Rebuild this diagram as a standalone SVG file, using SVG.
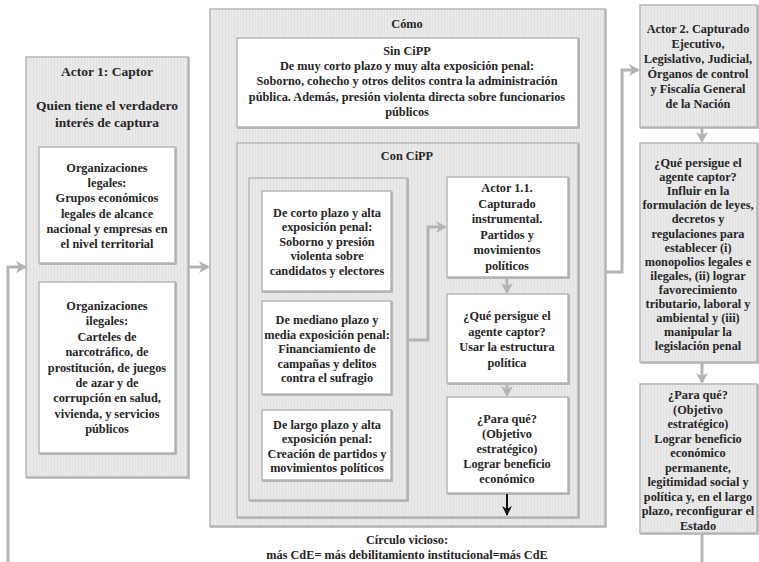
<svg xmlns="http://www.w3.org/2000/svg" width="759" height="562" viewBox="0 0 759 562">
<style>
.t{font-family:"Liberation Serif","DejaVu Serif",serif;font-weight:bold;font-size:12.3px;fill:#262626;text-anchor:middle}
.big{font-size:13.5px}
.g{fill:url(#stripe);stroke:#b6b6b6;stroke-width:1.5;filter:url(#sh)}
.w{fill:#ffffff;stroke:#b6b6b6;stroke-width:1.5;filter:url(#sh)}
.c{fill:none;stroke:#b4b4b4;stroke-width:3;marker-end:url(#ah)}
.k{fill:none;stroke:#111;stroke-width:2;marker-end:url(#ak)}
</style>
<defs>
<pattern id="stripe" width="3" height="3" patternUnits="userSpaceOnUse">
<rect width="3" height="3" fill="#e9e9e9"/>
<rect width="1" height="3" fill="#e1e1e1"/>
</pattern>
<filter id="sh" x="-5%" y="-5%" width="110%" height="110%">
<feDropShadow dx="1" dy="1" stdDeviation="0.7" flood-color="#8a8a8a" flood-opacity="0.7"/>
</filter>
<marker id="ah" markerUnits="userSpaceOnUse" markerWidth="12" markerHeight="12" refX="9" refY="6" orient="auto">
<path d="M0,0 L11,6 L0,12 L3,6 z" fill="#b4b4b4"/>
</marker>
<marker id="ak" markerUnits="userSpaceOnUse" markerWidth="12" markerHeight="12" refX="9" refY="6" orient="auto">
<path d="M0,1 L10,6 L0,11 L3,6 z" fill="#111"/>
</marker>
</defs>
<rect width="759" height="562" fill="#ffffff"/>

<g id="actor1">
<rect class="g" x="26" y="57" width="162" height="420"/>
<text class="t big" x="107" y="76">Actor 1: Captor</text>
<text class="t big" x="107" y="110">Quien tiene el verdadero<tspan x="107" dy="17">interés de captura</tspan></text>
</g>
<g id="org-legales">
<rect class="w" x="39" y="147" width="136" height="116"/>
<text class="t" x="107" y="172">Organizaciones<tspan x="107" dy="15.2">legales:</tspan><tspan x="107" dy="15.2">Grupos económicos</tspan><tspan x="107" dy="15.2">legales de alcance</tspan><tspan x="107" dy="15.2">nacional y empresas en</tspan><tspan x="107" dy="15.2">el nivel territorial</tspan></text>
</g>
<g id="org-ilegales">
<rect class="w" x="39" y="282" width="136" height="171"/>
<text class="t" x="107" y="310">Organizaciones<tspan x="107" dy="15.4">ilegales:</tspan><tspan x="107" dy="15.4">Carteles de</tspan><tspan x="107" dy="15.4">narcotráfico, de</tspan><tspan x="107" dy="15.4">prostitución, de juegos</tspan><tspan x="107" dy="15.4">de azar y de</tspan><tspan x="107" dy="15.4">corrupción en salud,</tspan><tspan x="107" dy="15.4">vivienda, y servicios</tspan><tspan x="107" dy="15.4">públicos</tspan></text>
</g>

<g id="como">
<rect class="g" x="210" y="9" width="395" height="517"/>
<text class="t" x="407" y="28">Cómo</text>
</g>
<g id="sin-cipp">
<rect class="w" x="237" y="38" width="341" height="89"/>
<text class="t" x="407" y="55">Sin CiPP<tspan x="407" dy="15.2">De muy corto plazo y muy alta exposición penal:</tspan><tspan x="407" dy="15.2">Soborno, cohecho y otros delitos contra la administración</tspan><tspan x="407" dy="15.2">pública. Además, presión violenta directa sobre funcionarios</tspan><tspan x="407" dy="15.2">públicos</tspan></text>
</g>
<g id="con-cipp">
<rect class="g" x="237" y="143" width="341" height="374"/>
<text class="t" x="407" y="160">Con CiPP</text>
</g>
<g id="modalidades">
<rect class="g" x="249" y="178" width="158" height="322"/>
</g>
<g id="corto-plazo">
<rect class="w" x="262" y="191" width="129" height="100"/>
<text class="t" x="327" y="217">De corto plazo y alta<tspan x="327" dy="14.4">exposición penal:</tspan><tspan x="327" dy="14.4">Soborno y presión</tspan><tspan x="327" dy="14.4">violenta sobre</tspan><tspan x="327" dy="14.4">candidatos y electores</tspan></text>
</g>
<g id="mediano-plazo">
<rect class="w" x="262" y="301" width="129" height="93"/>
<text class="t" x="327" y="324">De mediano plazo y<tspan x="327" dy="14.5">media exposición penal:</tspan><tspan x="327" dy="14.5">Financiamiento de</tspan><tspan x="327" dy="14.5">campañas y delitos</tspan><tspan x="327" dy="14.5">contra el sufragio</tspan></text>
</g>
<g id="largo-plazo">
<rect class="w" x="262" y="410" width="129" height="70"/>
<text class="t" x="327" y="429">De largo plazo y alta<tspan x="327" dy="14.4">exposición penal:</tspan><tspan x="327" dy="14.4">Creación de partidos y</tspan><tspan x="327" dy="14.4">movimientos políticos</tspan></text>
</g>
<g id="actor1-1">
<rect class="w" x="447" y="177" width="121" height="100"/>
<text class="t" x="507" y="192">Actor 1.1.<tspan x="507" dy="15.5">Capturado</tspan><tspan x="507" dy="15.5">instrumental.</tspan><tspan x="507" dy="15.5">Partidos y</tspan><tspan x="507" dy="15.5">movimientos</tspan><tspan x="507" dy="15.5">políticos</tspan></text>
</g>
<g id="persigue1">
<rect class="w" x="447" y="294" width="121" height="89"/>
<text class="t" x="507" y="320">¿Qué persigue el<tspan x="507" dy="15.5">agente captor?</tspan><tspan x="507" dy="15.5">Usar la estructura</tspan><tspan x="507" dy="15.5">política</tspan></text>
</g>
<g id="paraque1">
<rect class="w" x="447" y="397" width="121" height="96"/>
<text class="t" x="507" y="423">¿Para qué?<tspan x="507" dy="15">(Objetivo</tspan><tspan x="507" dy="15">estratégico)</tspan><tspan x="507" dy="15">Lograr beneficio</tspan><tspan x="507" dy="15">económico</tspan></text>
</g>

<g id="actor2">
<rect class="g" x="640" y="5" width="117" height="122"/>
<text class="t" x="698" y="33">Actor 2. Capturado<tspan x="698" dy="15">Ejecutivo,</tspan><tspan x="698" dy="15">Legislativo, Judicial,</tspan><tspan x="698" dy="15">Órganos de control</tspan><tspan x="698" dy="15">y Fiscalía General</tspan><tspan x="698" dy="15">de la Nación</tspan></text>
</g>
<g id="persigue2">
<rect class="g" x="640" y="143" width="117" height="219"/>
<text class="t" x="698" y="167">¿Qué persigue el<tspan x="698" dy="14.1">agente captor?</tspan><tspan x="698" dy="14.1">Influir en la</tspan><tspan x="698" dy="14.1">formulación de leyes,</tspan><tspan x="698" dy="14.1">decretos y</tspan><tspan x="698" dy="14.1">regulaciones para</tspan><tspan x="698" dy="14.1">establecer (i)</tspan><tspan x="698" dy="14.1">monopolios legales e</tspan><tspan x="698" dy="14.1">ilegales, (ii) lograr</tspan><tspan x="698" dy="14.1">favorecimiento</tspan><tspan x="698" dy="14.1">tributario, laboral y</tspan><tspan x="698" dy="14.1">ambiental y (iii)</tspan><tspan x="698" dy="14.1">manipular la</tspan><tspan x="698" dy="14.1">legislación penal</tspan></text>
</g>
<g id="paraque2">
<rect class="g" x="640" y="384" width="117" height="149"/>
<text class="t" x="698" y="399">¿Para qué?<tspan x="698" dy="14.5">(Objetivo</tspan><tspan x="698" dy="14.5">estratégico)</tspan><tspan x="698" dy="14.5">Lograr beneficio</tspan><tspan x="698" dy="14.5">económico</tspan><tspan x="698" dy="14.5">permanente,</tspan><tspan x="698" dy="14.5">legitimidad social y</tspan><tspan x="698" dy="14.5">política y, en el largo</tspan><tspan x="698" dy="14.5">plazo, reconfigurar el</tspan><tspan x="698" dy="14.5">Estado</tspan></text>
</g>

<g id="connectors">
<polyline class="c" points="8,562 8,267 25,267"/>
<line class="c" x1="189" y1="267" x2="208" y2="267"/>
<polyline class="c" points="408,340 428,340 428,227 445,227"/>
<line class="c" x1="507" y1="278" x2="507" y2="292"/>
<line class="c" x1="507" y1="384" x2="507" y2="395"/>
<line class="k" x1="507" y1="494" x2="507" y2="515"/>
<polyline class="c" points="606,272 622,272 622,70 638,70"/>
<line class="c" x1="702" y1="128" x2="702" y2="141"/>
<line class="c" x1="702" y1="363" x2="702" y2="382"/>
<line class="c" x1="702" y1="534" x2="702" y2="562" style="marker-end:none"/>
</g>

<g id="circulo">
<text class="t" x="407" y="544">Círculo vicioso:<tspan x="407" dy="15">más CdE= más debilitamiento institucional=más CdE</tspan></text>
</g>
</svg>
